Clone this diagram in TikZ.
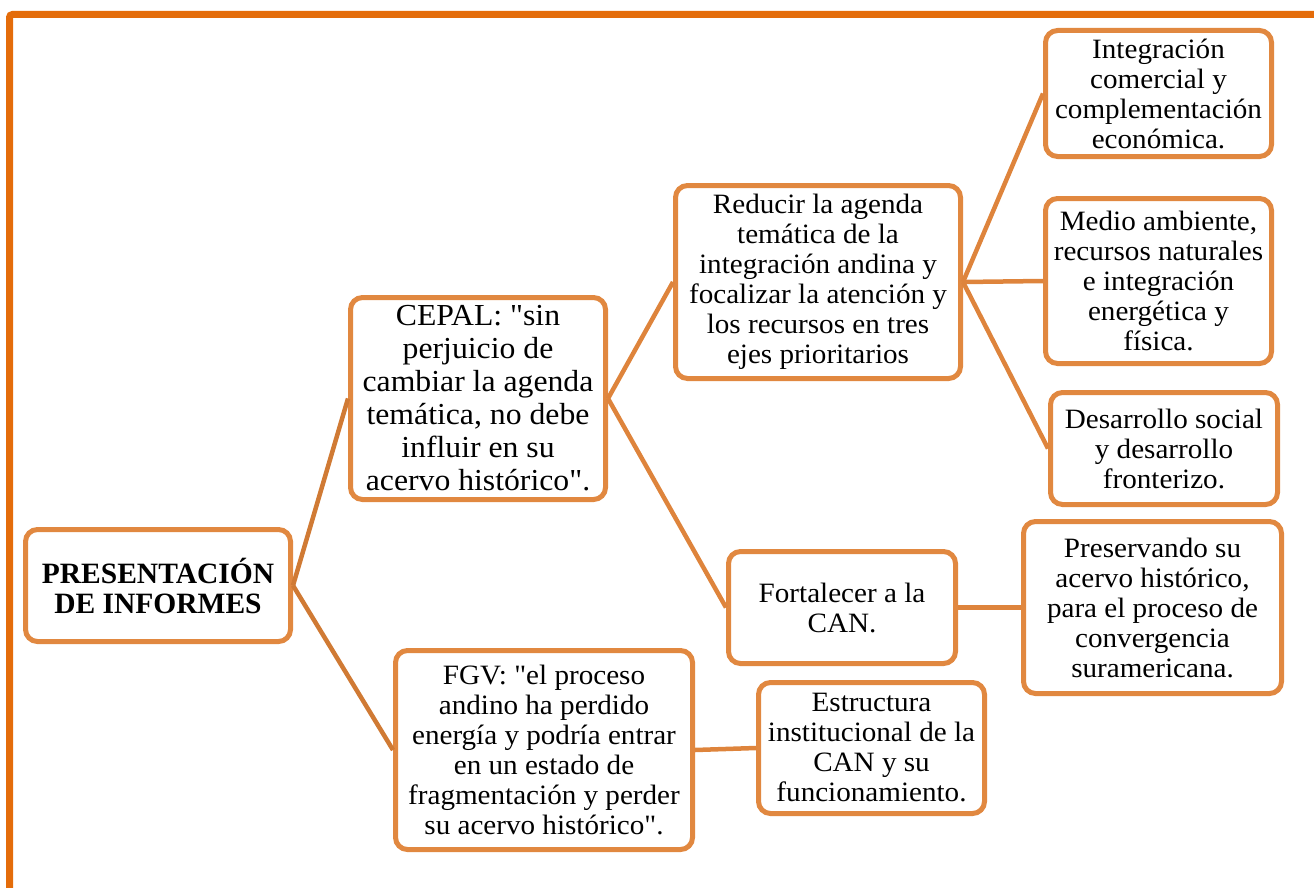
\documentclass[tikz,border=0pt]{standalone}
\usepackage{fontspec}
\setmainfont{Liberation Serif}
\newfontfamily\bodyfont[FakeStretch=1.04]{Liberation Serif}
\definecolor{framecol}{RGB}{228,108,10}
\definecolor{boxcol}{RGB}{225,136,64}
\definecolor{linkcol}{RGB}{222,132,60}
\definecolor{rootlink}{RGB}{208,122,52}
\tikzset{
  box/.style={draw=boxcol, line width=5pt, rounded corners=12pt, fill=white,
    align=center, inner sep=0pt, font={\bodyfont\fontsize{28}{30}\selectfont}},
  bigtext/.style={font={\bodyfont\fontsize{30.5}{33}\selectfont}},
  roottext/.style={font={\bfseries\fontsize{29.5}{30}\selectfont}},
  link/.style={draw=linkcol, line width=4.5pt},
  rlink/.style={draw=rootlink, line width=4.5pt}
}
\begin{document}
\begin{tikzpicture}[x=1pt,y=-1pt]
\useasboundingbox (0,0) rectangle (1314,888);
% frame
\draw[framecol, line width=7pt, rounded corners=3pt] (9.5,900) -- (9.5,14.5) -- (1330,14.5);
% nodes
\node[box, roottext, minimum width=265pt, minimum height=112pt] (root) at (158,585.5) {PRESENTACIÓN\\DE INFORMES};
\node[box, bigtext, minimum width=255pt, minimum height=202pt] (cepal) at (478,398.5) {CEPAL: "sin\\perjuicio de\\cambiar la agenda\\temática, no debe\\influir en su\\acervo histórico".};
\node[box, minimum width=297pt, minimum height=199pt] (fgv) at (544,750) {FGV: "el proceso\\andino ha perdido\\energía y podría entrar\\en un estado de\\fragmentación y perder\\su acervo histórico".};
\node[box, minimum width=285pt, minimum height=193pt] (red) at (818,282) {Reducir la agenda\\temática de la\\integración andina y\\focalizar la atención y\\los recursos en tres\\ejes prioritarios};
\node[box, minimum width=227pt, minimum height=112pt] (fort) at (842,607.5) {Fortalecer a la\\CAN.};
\node[box, minimum width=226pt, minimum height=131pt] (estr) at (871.5,748) {Estructura\\institucional de la\\CAN y su\\funcionamiento.};
\node[box, minimum width=226pt, minimum height=126pt] (integ) at (1158.5,93.5) {Integración\\comercial y\\complementación\\económica.};
\node[box, minimum width=226pt, minimum height=165pt] (medio) at (1158.5,281) {Medio ambiente,\\recursos naturales\\e integración\\energética y\\física.};
\node[box, minimum width=227pt, minimum height=112pt] (desa) at (1164,448.5) {Desarrollo social\\y desarrollo\\fronterizo.};
\node[box, minimum width=258pt, minimum height=172pt] (pres) at (1152.5,607.5) {Preservando su\\acervo histórico,\\para el proceso de\\convergencia\\suramericana.};
% connectors
\draw[rlink] (root.east) -- (cepal.west);
\draw[rlink] (root.east) -- (fgv.west);
\draw[link] (cepal.east) -- (red.west);
\draw[link] (cepal.east) -- (fort.west);
\draw[link] (fgv.east) -- (estr.west);
\draw[link] (red.east) -- (integ.west);
\draw[link] (red.east) -- (medio.west);
\draw[link] (red.east) -- (desa.west);
\draw[link] (fort.east) -- (pres.west);
\end{tikzpicture}
\end{document}
